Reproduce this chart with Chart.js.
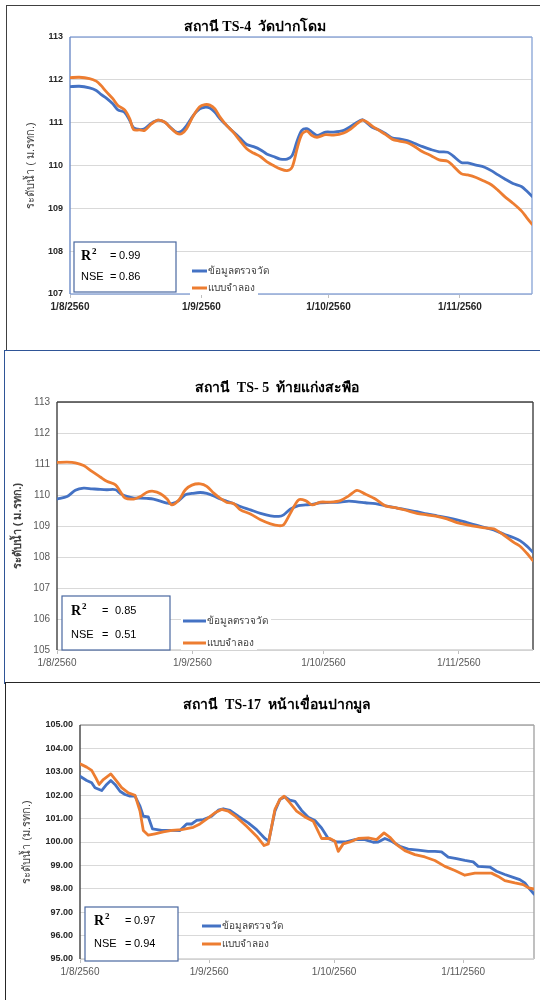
<!DOCTYPE html>
<html lang="th">
<head>
<meta charset="utf-8">
<title>ระดับน้ำ สถานี TS-4 TS-5 TS-17</title>
<script src="https://cdn.jsdelivr.net/npm/chart.js@4.4.1/dist/chart.umd.min.js"></script>
<style>
html, body { margin: 0; padding: 0; background: #fff; }
body { position: relative; width: 540px; height: 1000px; overflow: hidden; }
.painel { position: absolute; background: #fff; box-sizing: border-box; }
.painel canvas { position: absolute; left: 0; top: 0; }
.titulo { position: absolute; width: 300px; text-align: center; white-space: nowrap;
  font: bold 14px "Liberation Serif", serif; color: #000; }
#p1 { left: 6px; top: 5px; width: 560px; height: 347px; border: 1px solid #404040; }
#p2 { left: 4px; top: 350px; width: 560px; height: 334px; border: 1px solid #2f5597; }
#p3 { left: 5px; top: 682px; width: 560px; height: 340px; border: 1px solid #262626; }
</style>
</head>
<body>
<div class="painel" id="p1"><canvas id="g1" width="533" height="344"></canvas></div>
<div class="painel" id="p2"><canvas id="g2" width="535" height="331"></canvas></div>
<div class="painel" id="p3"><canvas id="g3" width="534" height="317"></canvas></div>
<div class="titulo" style="left:105px;top:15px">สถานี TS-4&nbsp; วัดปากโดม</div>
<div class="titulo" style="left:127px;top:376px">สถานี&nbsp; TS- 5&nbsp; ท้ายแก่งสะพือ</div>
<div class="titulo" style="left:127px;top:693px">สถานี&nbsp; TS-17&nbsp; หน้าเขื่อนปากมูล</div>
<script>
// dias contados a partir de 1/8/2560
var tickDays = [0, 31, 61, 92];
var tickLabels = ['1/8/2560', '1/9/2560', '1/10/2560', '1/11/2560'];
var lastDay = 109;
var seriesNames = ['ข้อมูลตรวจวัด', 'แบบจำลอง'];
var r2Values = [0.99, 0.85, 0.97];
var nseValues = [0.86, 0.51, 0.94];

// TS-4 วัดปากโดม
var ts4Days = [0, 2.2, 4.6, 6.2, 7.3, 8.5, 10.1, 11.3, 12.9, 14.1, 15, 16.4, 17.6, 19.2, 20.8, 22.4, 23.5, 25.1,
  26.3, 27.5, 29.1, 30.6, 31.8, 33, 34.2, 35.4, 37, 38.5, 40.1, 41.7, 43.3, 44.9, 46.4, 48, 49.6, 51.2,
  52.4, 53.6, 54.7, 55.9, 57.1, 58.3, 60.3, 62.2, 64.6, 66.2, 67.4, 69, 70.1, 71.3, 72.9, 74.5, 76.1, 77.7,
  79.6, 81.2, 83.2, 85.2, 87.1, 89.1, 90.3, 92.3, 93.8, 95.8, 97.8, 99.4, 101, 102.5, 104.5, 106.5, 107.7, 109];
var ts4Obs = [111.84, 111.85, 111.81, 111.75, 111.66, 111.58, 111.44, 111.30, 111.24, 111.05, 110.88, 110.84,
  110.86, 110.99, 111.06, 111.01, 110.91, 110.78, 110.80, 110.93, 111.17, 111.32, 111.36, 111.34, 111.24,
  111.09, 110.93, 110.79, 110.64, 110.49, 110.44, 110.37, 110.27, 110.21, 110.15, 110.15, 110.23, 110.58,
  110.82, 110.86, 110.78, 110.70, 110.78, 110.78, 110.82, 110.91, 110.99, 111.07, 110.99, 110.89, 110.83,
  110.74, 110.64, 110.62, 110.58, 110.52, 110.44, 110.37, 110.32, 110.31, 110.23, 110.07, 110.06, 110.01,
  109.96, 109.88, 109.78, 109.69, 109.58, 109.51, 109.41, 109.28];
var ts4Sim = [112.05, 112.06, 112.03, 111.97, 111.87, 111.73, 111.56, 111.40, 111.30, 111.09, 110.84, 110.83,
  110.82, 110.97, 111.06, 111.01, 110.90, 110.76, 110.74, 110.86, 111.16, 111.37, 111.42, 111.41, 111.32,
  111.13, 110.93, 110.78, 110.58, 110.39, 110.29, 110.21, 110.09, 110.00, 109.92, 109.88, 109.96, 110.40,
  110.73, 110.80, 110.70, 110.66, 110.72, 110.71, 110.76, 110.85, 110.95, 111.06, 111.01, 110.92, 110.82,
  110.72, 110.61, 110.57, 110.53, 110.45, 110.32, 110.23, 110.13, 110.10, 110.00, 109.81, 109.78, 109.72,
  109.63, 109.55, 109.42, 109.28, 109.12, 108.94, 108.79, 108.63];

// TS-5 ท้ายแก่งสะพือ
var ts5Days = [0, 2.3, 4.2, 6.1, 8, 9.9, 11.4, 13.4, 14.5, 15.6, 17.6, 19.1, 20.6, 22.1, 23.7, 25.2, 26.3, 27.9,
  29.4, 30.9, 32.8, 34.3, 35.9, 37.4, 38.9, 40.5, 42, 44.3, 46.6, 48.9, 50.8, 51.9, 53.4, 55.3, 56.9, 58.4,
  60.3, 62.6, 64.9, 66.8, 68.7, 70.6, 72.9, 75.2, 77.9, 80.1, 82.4, 84.7, 87, 89.3, 91.6, 93.9, 96.2, 98.5,
  100, 102.3, 104.6, 106.1, 107.6, 109];
var ts5Obs = [109.87, 109.95, 110.15, 110.22, 110.20, 110.18, 110.17, 110.17, 110.05, 109.97, 109.90, 109.90,
  109.89, 109.87, 109.80, 109.74, 109.72, 109.82, 110.01, 110.05, 110.08, 110.05, 109.97, 109.87, 109.80,
  109.72, 109.63, 109.52, 109.41, 109.33, 109.31, 109.36, 109.54, 109.66, 109.68, 109.70, 109.75, 109.76,
  109.77, 109.80, 109.78, 109.75, 109.72, 109.65, 109.58, 109.52, 109.46, 109.39, 109.33, 109.27, 109.20,
  109.11, 109.02, 108.93, 108.87, 108.74, 108.62, 108.52, 108.35, 108.15];
var ts5Sim = [111.05, 111.06, 111.04, 110.95, 110.76, 110.58, 110.44, 110.33, 110.11, 109.90, 109.87, 109.95,
  110.09, 110.12, 110.04, 109.87, 109.68, 109.84, 110.17, 110.32, 110.36, 110.28, 110.06, 109.89, 109.76,
  109.72, 109.52, 109.39, 109.20, 109.07, 109.01, 109.04, 109.40, 109.84, 109.82, 109.68, 109.77, 109.77,
  109.82, 109.97, 110.15, 110.03, 109.87, 109.65, 109.58, 109.50, 109.41, 109.36, 109.31, 109.23, 109.11,
  109.04, 108.98, 108.93, 108.91, 108.71, 108.47, 108.34, 108.12, 107.88];

// TS-17 หน้าเขื่อนปากมูล
var ts17ObsDays = [0, 1.6, 2.8, 3.6, 5.2, 6.4, 7.4, 8.4, 9.6, 10.8, 12, 13.2, 14.4, 15.2, 16.4, 17.4, 19.6, 22,
  24, 25.6, 26.8, 28, 29.6, 31.6, 33.2, 34.4, 36, 38, 40.4, 42.4, 44.4, 45.3, 46.8, 48, 49.2, 50.4, 51.6,
  53.2, 54.8, 56.4, 58, 59.6, 61.6, 63.6, 66, 68.4, 70.4, 71.6, 73.2, 74.8, 76.8, 78.8, 81.2, 83.6, 85.2,
  86.8, 88.4, 90.4, 92.4, 94.4, 95.6, 98.4, 100, 102, 104, 105.6, 106.8, 107.7, 109];
var ts17Obs = [102.81, 102.63, 102.53, 102.32, 102.20, 102.46, 102.63, 102.46, 102.17, 102.03, 101.96, 101.96,
  101.53, 101.10, 101.07, 100.56, 100.50, 100.50, 100.49, 100.77, 100.77, 100.92, 100.96, 101.10, 101.36,
  101.42, 101.35, 101.10, 100.82, 100.53, 100.15, 100.03, 101.32, 101.82, 101.93, 101.79, 101.74, 101.35,
  101.06, 100.92, 100.60, 100.15, 100.00, 100.00, 100.10, 100.10, 99.99, 100.00, 100.15, 100.03, 99.82,
  99.70, 99.65, 99.60, 99.60, 99.58, 99.35, 99.29, 99.21, 99.15, 98.96, 98.93, 98.75, 98.61, 98.49, 98.39,
  98.25, 98.04, 97.78];
var ts17SimDays = [0, 1.6, 2.8, 3.8, 4.6, 5.6, 7.4, 8.8, 10, 11.6, 13.2, 14.4, 15.2, 16.4, 18, 20, 22, 24.4,
  27.2, 28.8, 30.8, 32.4, 34, 35.6, 37.6, 40, 42.4, 44.2, 45.2, 46.8, 48, 49, 50.4, 52, 54, 56, 58, 60,
  61.2, 62, 63.2, 64.8, 66.8, 69.2, 71.2, 73, 74.4, 76, 78, 80.4, 82.8, 85.2, 87.6, 90, 92.4, 94.8, 97.2,
  98.8, 100.4, 102, 104.4, 106.4, 107.7, 109];
var ts17Sim = [103.34, 103.20, 103.06, 102.74, 102.46, 102.67, 102.91, 102.60, 102.32, 102.10, 102.00, 101.32,
  100.49, 100.29, 100.35, 100.43, 100.50, 100.53, 100.63, 100.77, 101.03, 101.25, 101.39, 101.32, 101.06,
  100.67, 100.25, 99.85, 99.92, 101.39, 101.82, 101.96, 101.67, 101.32, 101.07, 100.89, 100.15, 100.15,
  100.03, 99.60, 99.92, 100.00, 100.15, 100.18, 100.10, 100.39, 100.20, 99.89, 99.63, 99.46, 99.36, 99.21,
  98.96, 98.78, 98.58, 98.67, 98.67, 98.67, 98.53, 98.35, 98.25, 98.18, 98.04, 97.99];

var corObs = '#4472C4';
var corSim = '#ED7D31';
var fonteTai = '"Liberation Sans", "Noto Sans", sans-serif';

function pts(days, vals) {
    return days.map(function (d, i) { return { x: d, y: vals[i] }; });
}

// borda da área do gráfico, cada lado com sua cor
var moldura = {
    id: 'moldura',
    beforeDatasetsDraw: function (chart, args, o) {
        var ctx = chart.ctx, a = chart.chartArea;
        var lados = [
            [o.top, a.left, a.top, a.right, a.top],
            [o.right, a.right, a.top, a.right, a.bottom],
            [o.bottom, a.left, a.bottom, a.right, a.bottom],
            [o.left, a.left, a.top, a.left, a.bottom]
        ];
        ctx.save();
        ctx.lineWidth = o.width;
        lados.forEach(function (l) {
            ctx.strokeStyle = l[0];
            ctx.beginPath();
            ctx.moveTo(l[1], l[2]);
            ctx.lineTo(l[3], l[4]);
            ctx.stroke();
        });
        ctx.restore();
    }
};

// caixa com R2 / NSE e a legenda das séries
var extras = {
    id: 'extras',
    afterDatasetsDraw: function (chart, args, o) {
        var ctx = chart.ctx, a = chart.chartArea;
        var bx = a.left + o.box[0], by = a.bottom + o.box[1], bw = o.box[2], bh = o.box[3];
        ctx.save();
        ctx.fillStyle = '#fff';
        ctx.fillRect(bx, by, bw, bh);
        ctx.strokeStyle = '#4a68a0';
        ctx.lineWidth = 1.2;
        ctx.strokeRect(bx, by, bw, bh);

        ctx.fillStyle = '#000';
        ctx.textBaseline = 'middle';
        ctx.textAlign = 'left';
        var t = o.txt;
        ctx.font = 'bold 14px "Liberation Serif", serif';
        ctx.fillText('R', bx + t[0], by + t[1]);
        var rw = ctx.measureText('R').width;
        ctx.font = 'bold 9px "Liberation Serif", serif';
        ctx.fillText('2', bx + t[0] + rw + 1, by + t[1] - 4);
        ctx.font = '11px "Liberation Sans", sans-serif';
        ctx.fillText('=', bx + t[2], by + t[1]);
        ctx.fillText(o.r2.toFixed(2), bx + t[3], by + t[1]);
        ctx.fillText('NSE', bx + t[0], by + t[4]);
        ctx.fillText('=', bx + t[2], by + t[4]);
        ctx.fillText(o.nse.toFixed(2), bx + t[3], by + t[4]);

        ctx.font = '10px ' + fonteTai;
        chart.data.datasets.forEach(function (ds, i) {
            var x0 = a.left + o.leg.x, y = a.bottom + o.leg.ys[i];
            var tw = ctx.measureText(ds.label).width;
            ctx.fillStyle = '#fff';
            ctx.fillRect(x0 - 2, y - 7, o.leg.len + tw + 6, 14);
            ctx.strokeStyle = ds.borderColor;
            ctx.lineWidth = 3;
            ctx.beginPath();
            ctx.moveTo(x0, y);
            ctx.lineTo(x0 + o.leg.len, y);
            ctx.stroke();
            ctx.fillStyle = '#404040';
            ctx.fillText(ds.label, x0 + o.leg.len + 1, y);
        });
        ctx.restore();
    }
};

function grafico(id, c) {
    return new Chart(document.getElementById(id), {
        type: 'line',
        data: {
            datasets: [{
                label: seriesNames[0],
                data: pts(c.obsDays, c.obs),
                borderColor: corObs,
                backgroundColor: corObs,
                order: 1
            }, {
                label: seriesNames[1],
                data: pts(c.simDays, c.sim),
                borderColor: corSim,
                backgroundColor: corSim,
                order: 0
            }]
        },
        options: {
            responsive: false,
            animation: false,
            elements: {
                point: { radius: 0 },
                line: { borderWidth: 2.8, tension: c.tension, borderCapStyle: 'round', borderJoinStyle: 'round' }
            },
            layout: { padding: c.pad },
            plugins: {
                legend: { display: false },
                title: { display: false },
                tooltip: { enabled: false },
                moldura: c.frame,
                extras: c.extras
            },
            scales: {
                x: {
                    type: 'linear',
                    min: 0,
                    max: lastDay,
                    afterBuildTicks: function (s) {
                        s.ticks = tickDays.map(function (v) { return { value: v }; });
                    },
                    afterFit: function (s) { s.height = 22; },
                    border: { display: false },
                    grid: { drawOnChartArea: false, drawTicks: true, tickLength: 4, color: '#bfbfbf' },
                    ticks: {
                        autoSkip: false,
                        maxRotation: 0,
                        padding: 3,
                        color: c.xTickColor,
                        font: { family: '"Liberation Sans", sans-serif', size: 10, weight: c.xTickWeight },
                        callback: function (v) { return tickLabels[tickDays.indexOf(v)]; }
                    }
                },
                y: {
                    min: c.yMin,
                    max: c.yMax,
                    afterFit: function (s) { s.width = c.yWidth; },
                    border: { display: false },
                    grid: { color: '#d9d9d9', drawTicks: false },
                    ticks: {
                        stepSize: 1,
                        padding: 7,
                        color: c.yTickColor,
                        font: { family: '"Liberation Sans", sans-serif', size: c.yTickSize, weight: c.yTickWeight },
                        callback: function (v) { return v.toFixed(c.decimals); }
                    },
                    title: {
                        display: true,
                        text: c.yTitle,
                        color: '#404040',
                        padding: { top: c.yTitlePad, bottom: 0 },
                        font: { family: fonteTai, size: 11, weight: c.yTitleWeight }
                    }
                }
            }
        },
        plugins: [moldura, extras]
    });
}

window.onload = function () {
    grafico('g1', {
        obsDays: ts4Days, obs: ts4Obs, simDays: ts4Days, sim: ts4Sim,
        yMin: 107, yMax: 113, decimals: 0, tension: 0.3,
        yWidth: 63, pad: { top: 31, right: 8, bottom: 34, left: 0 },
        yTitle: 'ระดับน้ำ ( ม.รทก.)', yTitlePad: 17, yTitleWeight: 'normal',
        yTickColor: '#262626', yTickWeight: 'bold', yTickSize: 9,
        xTickColor: '#262626', xTickWeight: 'bold',
        frame: { width: 1.4, top: '#8fa9d8', right: '#8fa9d8', bottom: '#8fa9d8', left: '#6d8cc8' },
        extras: {
            r2: r2Values[0], nse: nseValues[0],
            box: [4, -52, 102, 50], txt: [7, 14, 36, 45, 35],
            leg: { x: 122, len: 15, ys: [-23, -6] }
        }
    });

    grafico('g2', {
        obsDays: ts5Days, obs: ts5Obs, simDays: ts5Days, sim: ts5Sim,
        yMin: 105, yMax: 113, decimals: 0, tension: 0.3,
        yWidth: 52, pad: { top: 51, right: 7, bottom: 10, left: 0 },
        yTitle: 'ระดับน้ำ ( ม.รทก.)', yTitlePad: 6, yTitleWeight: 'bold',
        yTickColor: '#595959', yTickWeight: 'normal', yTickSize: 10,
        xTickColor: '#595959', xTickWeight: 'normal',
        frame: { width: 1.4, top: '#404040', right: '#404040', bottom: '#d0d0d0', left: '#404040' },
        extras: {
            r2: r2Values[1], nse: nseValues[1],
            box: [5, -54, 108, 54], txt: [9, 15, 40, 53, 39],
            leg: { x: 126, len: 23, ys: [-29, -7] }
        }
    });

    grafico('g3', {
        obsDays: ts17ObsDays, obs: ts17Obs, simDays: ts17SimDays, sim: ts17Sim,
        yMin: 95, yMax: 105, decimals: 2, tension: 0,
        yWidth: 74, pad: { top: 42, right: 6, bottom: 19, left: 0 },
        yTitle: 'ระดับน้ำ (ม.รทก.)', yTitlePad: 14, yTitleWeight: 'normal',
        yTickColor: '#262626', yTickWeight: 'bold', yTickSize: 9,
        xTickColor: '#595959', xTickWeight: 'normal',
        frame: { width: 1.4, top: '#a6a6a6', right: '#a6a6a6', bottom: '#d0d0d0', left: '#404040' },
        extras: {
            r2: r2Values[2], nse: nseValues[2],
            box: [5, -52, 93, 54], txt: [9, 14, 40, 49, 37],
            leg: { x: 122, len: 19, ys: [-33, -15] }
        }
    });
};
</script>
</body>
</html>
